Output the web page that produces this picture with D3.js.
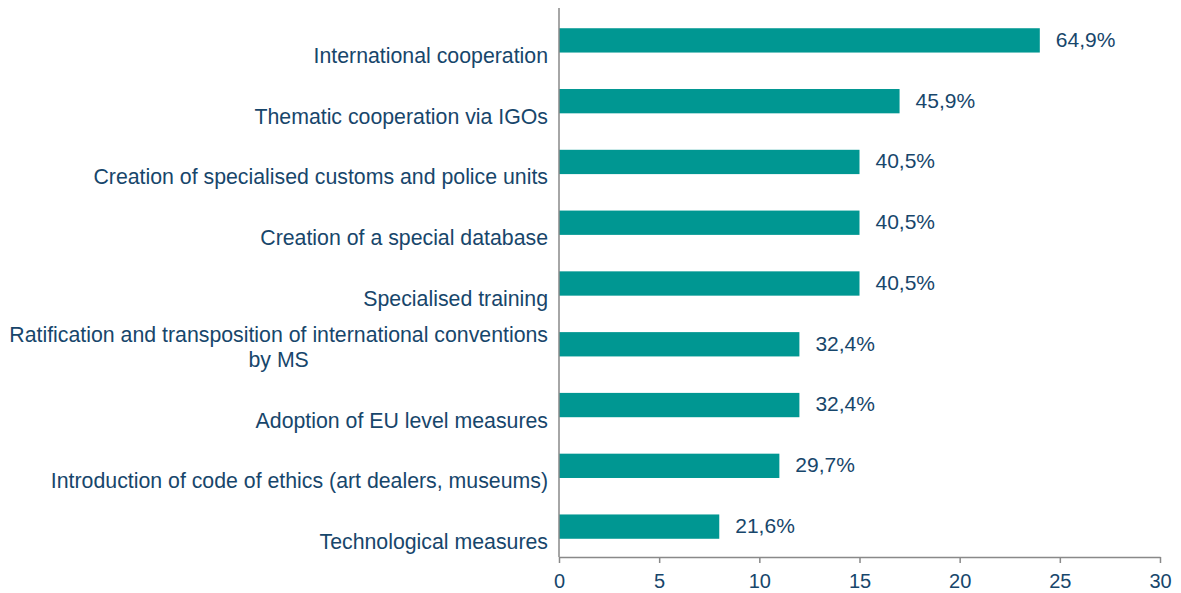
<!DOCTYPE html>
<html>
<head>
<meta charset="utf-8">
<script src="https://cdn.jsdelivr.net/npm/d3@7"></script>
<style>
  body { margin: 0; background: #fff; }
  svg text { font-family: "Liberation Sans", Arial, sans-serif; fill: #17466b; }
</style>
</head>
<body>
<svg id="chart" width="1181" height="593"></svg>
<script>
const categories = [
  ["International cooperation"],
  ["Thematic cooperation via IGOs"],
  ["Creation of specialised customs and police units"],
  ["Creation of a special database"],
  ["Specialised training"],
  ["Ratification and transposition of international conventions", "by MS"],
  ["Adoption of EU level measures"],
  ["Introduction of code of ethics (art dealers, museums)"],
  ["Technological measures"]
];
const counts = [24, 17, 15, 15, 15, 12, 12, 11, 8];
const percentLabels = ["64,9%", "45,9%", "40,5%", "40,5%", "40,5%", "32,4%", "32,4%", "29,7%", "21,6%"];
const xTicks = [0, 5, 10, 15, 20, 25, 30];

const margin = { top: 10, left: 559, right: 21, bottom: 36 };
const width = 1181, height = 593;
const svg = d3.select('#chart');

const x = d3.scaleLinear().domain([0, 30]).range([margin.left, width - margin.right]);
const y = d3.scaleBand().domain(d3.range(categories.length))
  .range([margin.top, height - margin.bottom]).paddingInner(0.6).paddingOuter(0.3);

// bars
svg.selectAll('.bar')
  .data(counts)
  .enter()
  .append('rect')
  .attr('class', 'bar')
  .attr('x', x(0))
  .attr('y', (d, i) => y(i))
  .attr('width', d => x(d) - x(0))
  .attr('height', y.bandwidth())
  .style('fill', '#009792');

// value labels
svg.selectAll('.val')
  .data(counts)
  .enter()
  .append('text')
  .attr('class', 'val')
  .attr('x', d => x(d) + 16)
  .attr('y', (d, i) => y(i) + y.bandwidth() / 2 - 1)
  .attr('dy', '0.35em')
  .style('font-size', '21px')
  .text((d, i) => percentLabels[i]);

// category labels
const catG = svg.selectAll('.cat')
  .data(categories)
  .enter()
  .append('text')
  .attr('class', 'cat')
  .style('font-size', '21.3px')
  .attr('text-anchor', 'end');

catG.each(function (lines, i) {
  const t = d3.select(this);
  const cy = y(i) + y.bandwidth() / 2 + 13;
  const n = lines.length;
  const first = t.append('tspan')
    .attr('x', 548)
    .attr('y', cy + 2 - (n - 1) * 25)
    .attr('dy', '0.35em')
    .text(lines[0]);
  if (n > 1) {
    const w = first.node().getComputedTextLength();
    for (let k = 1; k < n; k++) {
      t.append('tspan')
        .attr('x', 548 - w / 2)
        .attr('y', cy + 2 - (n - 1 - k) * 25)
        .attr('dy', '0.35em')
        .attr('text-anchor', 'middle')
        .text(lines[k]);
    }
  }
});

// x axis
const xAxis = svg.append('g')
  .attr('transform', 'translate(0,' + (height - margin.bottom) + ')')
  .call(d3.axisBottom(x).tickValues(xTicks).tickSize(6).tickSizeOuter(0).tickFormat(d3.format('d')));
xAxis.select('.domain').attr('stroke', '#898989').attr('stroke-width', 1.5);
xAxis.selectAll('.tick line').attr('stroke', '#898989').attr('stroke-width', 1.5);
xAxis.selectAll('.tick text').style('font-size', '20px').attr('y', 24).attr('dy', '0.35em');

// y axis line
svg.append('line')
  .attr('x1', x(0)).attr('x2', x(0))
  .attr('y1', margin.top - 2).attr('y2', height - margin.bottom)
  .attr('stroke', '#898989')
  .attr('stroke-width', 1.5);
</script>
</body>
</html>
